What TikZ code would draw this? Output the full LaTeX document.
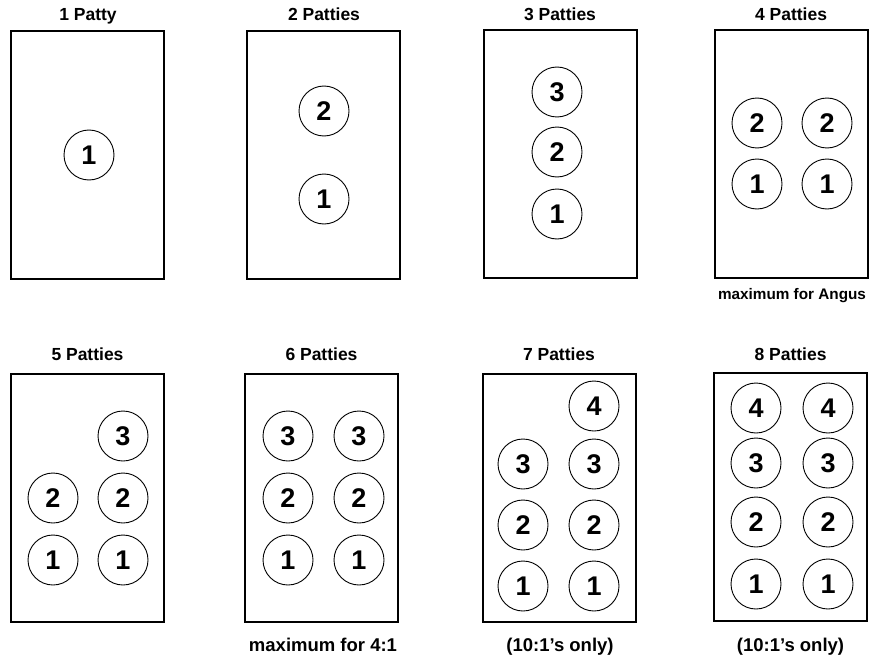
\documentclass[tikz,border=0pt]{standalone}
\usepackage{fontspec}
\setmainfont{Liberation Sans}
\usetikzlibrary{positioning}
\tikzset{
	tray/.style={
		rectangle,
		draw=black, line width=2pt,
		minimum width=153pt,
		minimum height=248pt,
		inner sep=0pt},
	patty/.style={
		circle,
		draw=black, line width=0.9pt,
		minimum size=50pt,
		inner sep=0pt,
		font=\fontsize{27}{27}\selectfont\bfseries},
	heading/.style={anchor=base, inner sep=0pt,
		font=\fontsize{17.5}{17.5}\selectfont\bfseries},
	remark/.style={anchor=base, inner sep=0pt,
		font=\fontsize{18.5}{18.5}\selectfont\bfseries},
}

\begin{document}
\begin{tikzpicture}
	[x=1pt, y=-1pt]
	\useasboundingbox (0,0) rectangle (874,658);
	% top row
	\node[tray] (tray1) at (87.5,155) {};
	\node[tray] (tray2) at (323.5,155) {};
	\node[tray] (tray3) at (560,154) {};
	\node[tray] (tray4) at (791,154) {};
	\node[heading] (head1) at (88,21) {1 Patty};
	\node[heading] (head2) at (324,21) {2 Patties};
	\node[heading] (head3) at (560,21) {3 Patties};
	\node[heading] (head4) at (791,21) {4 Patties};
	\node[remark, font=\fontsize{15.3}{15.3}\selectfont\bfseries] (note4) at (792,299) {maximum for Angus};
	% 1 patty
	\node[patty] (a1) at (89,155) {1};
	% 2 patties
	\node[patty] (b1) at (324,199) {1};
	\node[patty] (b2) at (324,111) {2};
	% 3 patties
	\node[patty] (c1) at (557,214) {1};
	\node[patty] (c2) at (557,152) {2};
	\node[patty] (c3) at (557,92) {3};
	% 4 patties
	\node[patty] (d1) at (757,184) {1};
	\node[patty] (d2) at (757,123) {2};
	\node[patty] (d1r) at (827,184) {1};
	\node[patty] (d2r) at (827,123) {2};
	% bottom row
	\node[tray] (tray5) at (87.5,497.5) {};
	\node[tray] (tray6) at (321.5,498) {};
	\node[tray] (tray7) at (559,497.5) {};
	\node[tray] (tray8) at (790.5,497) {};
	\node[heading] (head5) at (87.5,360) {5 Patties};
	\node[heading] (head6) at (321.5,360) {6 Patties};
	\node[heading] (head7) at (559,360) {7 Patties};
	\node[heading] (head8) at (790.5,360) {8 Patties};
	\node[remark] (note6) at (323,651) {maximum for 4:1};
	\node[remark] (note7) at (560,651) {(10:1’s only)};
	\node[remark] (note8) at (790.5,651) {(10:1’s only)};
	% 5 patties
	\node[patty] (e1) at (53,560) {1};
	\node[patty] (e2) at (53,498) {2};
	\node[patty] (e1r) at (123,560) {1};
	\node[patty] (e2r) at (123,498) {2};
	\node[patty] (e3r) at (123,436) {3};
	% 6 patties
	\node[patty] (f1) at (288,560) {1};
	\node[patty] (f2) at (288,498) {2};
	\node[patty] (f3) at (288,436) {3};
	\node[patty] (f1r) at (359,560) {1};
	\node[patty] (f2r) at (359,498) {2};
	\node[patty] (f3r) at (359,436) {3};
	% 7 patties
	\node[patty] (g1) at (523,586) {1};
	\node[patty] (g2) at (523,525) {2};
	\node[patty] (g3) at (523,464) {3};
	\node[patty] (g1r) at (594,586) {1};
	\node[patty] (g2r) at (594,525) {2};
	\node[patty] (g3r) at (594,464) {3};
	\node[patty] (g4r) at (594,406) {4};
	% 8 patties
	\node[patty] (h1) at (756,584) {1};
	\node[patty] (h2) at (756,522) {2};
	\node[patty] (h3) at (756,463) {3};
	\node[patty] (h4) at (756,408) {4};
	\node[patty] (h1r) at (828,584) {1};
	\node[patty] (h2r) at (828,522) {2};
	\node[patty] (h3r) at (828,463) {3};
	\node[patty] (h4r) at (828,408) {4};
\end{tikzpicture}
\end{document}
